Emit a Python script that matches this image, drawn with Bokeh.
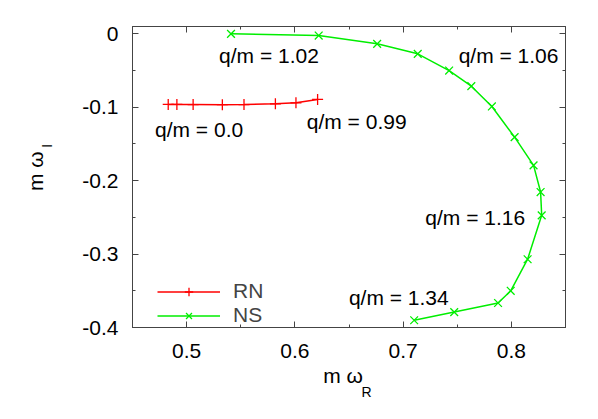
from bokeh.plotting import figure
from bokeh.models import (LinearAxis, FixedTicker, Label, Legend, LegendItem, Range1d)
from bokeh.embed import file_html
from bokeh.resources import INLINE

# RN branch (q/m from 0.0 to 0.99)
rn_x = [0.483, 0.491, 0.506, 0.533, 0.553, 0.582, 0.601, 0.621]
rn_y = [-0.0962, -0.0962, -0.0963, -0.0965, -0.0964, -0.0953, -0.0939, -0.0894]

# NS branch (q/m from 1.02 to 1.34)
ns_x = [0.541, 0.622, 0.676, 0.7135, 0.7425, 0.763, 0.782, 0.803, 0.8205,
        0.827, 0.828, 0.815, 0.7994, 0.7877, 0.7472, 0.7102]
ns_y = [0.0, -0.0023, -0.0136, -0.0272, -0.050, -0.0713, -0.0989, -0.1407, -0.1792,
        -0.2155, -0.2472, -0.307, -0.350, -0.3666, -0.379, -0.3901]

# annotations
ann_text = ["q/m = 0.0", "q/m = 0.99", "q/m = 1.02", "q/m = 1.06", "q/m = 1.16", "q/m = 1.34"]
ann_x = [0.4708, 0.611, 0.530, 0.7513, 0.7205, 0.6499]
ann_y = [-0.1306, -0.1195, -0.0295, -0.0295, -0.2496, -0.3592]

x_major = [0.5, 0.6, 0.7, 0.8]
x_minor = [0.45, 0.55, 0.65, 0.75, 0.85]
y_major = [-0.4, -0.3, -0.2, -0.1, 0.0]
y_minor = [-0.35, -0.25, -0.15, -0.05]

FONT = "Liberation Sans"
FS = "21px"
SUB = "14px"
AXC = "#444444"
NB = "\u00a0"

p = figure(width=590, height=411, output_backend="svg", toolbar_location=None,
           x_range=Range1d(0.45, 0.85), y_range=Range1d(-0.4, 0.01),
           x_axis_location=None, y_axis_location=None,
           min_border_left=132, min_border_right=25, min_border_top=26, min_border_bottom=84)
p.xgrid.visible = False
p.ygrid.visible = False
p.outline_line_color = AXC
p.background_fill_color = "white"
p.border_fill_color = "white"


def style(ax, labels=True):
    ax.axis_line_color = AXC
    ax.major_tick_line_color = AXC
    ax.minor_tick_line_color = AXC
    ax.major_tick_in = 6
    ax.major_tick_out = 0
    ax.minor_tick_in = 3
    ax.minor_tick_out = 0
    ax.major_label_text_font = FONT
    ax.major_label_text_font_size = FS
    ax.major_label_text_color = "black"
    ax.axis_label_text_font = FONT
    ax.axis_label_text_font_style = "normal"
    ax.axis_label_text_color = "black"
    if not labels:
        ax.major_label_text_font_size = "0px"
        ax.major_label_text_alpha = 0
        ax.major_label_standoff = 0


def label_only(ax, text, size, standoff):
    ax.axis_line_alpha = 0
    ax.major_tick_in = 0
    ax.major_tick_out = 0
    ax.minor_tick_in = 0
    ax.minor_tick_out = 0
    ax.major_label_text_font_size = "0px"
    ax.major_label_standoff = 0
    ax.axis_label = text
    ax.axis_label_text_font = FONT
    ax.axis_label_text_font_size = size
    ax.axis_label_text_font_style = "normal"
    ax.axis_label_text_color = "black"
    ax.axis_label_standoff = standoff


xt = FixedTicker(ticks=x_major, minor_ticks=x_minor)
yt = FixedTicker(ticks=y_major, minor_ticks=y_minor)

# bottom: ticks + "m ω", then subscript "R"
bx = LinearAxis(ticker=xt); style(bx)
bx.major_label_standoff = 16
bx.major_label_overrides = {v: f"{v:g}" for v in x_major}
bx.axis_label = "m ω" + NB * 2
bx.axis_label_text_font_size = FS
bx.axis_label_standoff = 3
bx_sub = LinearAxis(ticker=FixedTicker(ticks=[]))
label_only(bx_sub, NB * 9 + "R", SUB, -6)

# left: ticks + subscript "I", then "m ω"
ly = LinearAxis(ticker=yt); style(ly)
ly.major_label_standoff = 14
ly.major_label_overrides = {v: ("0" if v == 0 else f"{v:g}") for v in y_major}
ly.axis_label = NB * 16 + "I"
ly.axis_label_text_font_size = SUB
ly.axis_label_standoff = 24
ly_main = LinearAxis(ticker=FixedTicker(ticks=[]))
label_only(ly_main, NB * 2 + "m ω", FS, -10)

tx = LinearAxis(ticker=xt); style(tx, False)
ry = LinearAxis(ticker=yt); style(ry, False)

p.add_layout(bx, "below")
p.add_layout(bx_sub, "below")
p.add_layout(ly, "left")
p.add_layout(ly_main, "left")
p.add_layout(tx, "above")
p.add_layout(ry, "right")

r1 = p.line(rn_x, rn_y, line_color="#ff0000", line_width=1.5)
r2 = p.scatter(rn_x, rn_y, marker="cross", size=11, line_color="#ff0000", line_width=1.3)
g1 = p.line(ns_x, ns_y, line_color="#00ee00", line_width=1.5)
g2 = p.scatter(ns_x, ns_y, marker="x", size=11, line_color="#00ee00", line_width=1.3)

legend = Legend(items=[LegendItem(label="RN", renderers=[r1, r2]),
                       LegendItem(label="NS", renderers=[g1, g2])],
                location=(25, 0), padding=0, margin=0, spacing=0,
                glyph_width=63, glyph_height=21, label_height=21, label_standoff=13,
                label_text_font=FONT, label_text_font_size=FS,
                border_line_alpha=0, background_fill_alpha=0)
p.add_layout(legend, "center")

for t, x, y in zip(ann_text, ann_x, ann_y):
    p.add_layout(Label(x=x, y=y, text=t, text_font=FONT, text_font_size=FS,
                       text_align="left", text_baseline="alphabetic", text_color="black"))

open("out.html", "w").write(file_html(p, INLINE))
